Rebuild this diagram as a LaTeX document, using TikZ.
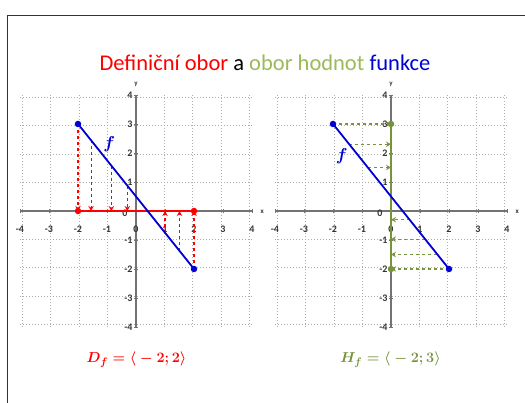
\documentclass[tikz,border=0pt]{standalone}
\usepackage{amsmath}
\usepackage{fontspec}
\setmainfont{Carlito}
\usetikzlibrary{arrows.meta}

\definecolor{cervena}{RGB}{255,0,0}
\definecolor{modra}{RGB}{0,0,210}
\definecolor{zelena}{RGB}{119,147,60}
\definecolor{zelenasv}{RGB}{155,187,89}

\tikzset{
  mrizka/.style={gray!65, dotted, line width=1pt},
  osa/.style={gray!90!black, line width=1.5pt},
  carka/.style={gray!90!black, line width=0.7pt},
  popisek/.style={font=\fontsize{10}{11}\selectfont\bfseries, text=black!80, inner sep=0.5pt},
  graf/.style={color=modra, line width=1.8pt},
  bod/.style={circle, fill, inner sep=0pt, minimum size=6.5pt},
  projD/.style={red, dashed, line width=1.1pt,
    -{Stealth[open, length=5pt, width=5.5pt]}},
  projH/.style={zelena, dashed, line width=1.1pt,
    -{Stealth[open, length=5pt, width=5.5pt]}},
}

% souradnicova soustava (mrizka, osy, popisky)
\newcommand{\soustava}[1]{%
  \draw[mrizka] (-4,-4) grid (4,4);
  \draw[osa] (-4,0) -- (4,0);
  \draw[osa] (0,-4) -- (0,4);
  \foreach \i in {-4,...,4}{
    \draw[carka] (\i,-0.08) -- (\i,0.08);
    \draw[carka] (-0.08,\i) -- (0.08,\i);
    \node[popisek] (#1x\i) at (\i,-0.62) {\i};
  }
  \foreach \i in {-4,...,-1,1,2,3,4}
    \node[popisek, anchor=east] (#1y\i) at (-0.1,\i) {\i};
  \node[popisek] (#1y0) at (-0.38,-0.07) {0};
  \node[popisek, font=\fontsize{7}{8}\selectfont\bfseries] (#1osax) at (4.35,-0.03) {x};
  \node[popisek, font=\fontsize{7}{8}\selectfont\bfseries] (#1osay) at (0,4.38) {y};
}

\begin{document}
\begin{tikzpicture}[x=1pt, y=1pt]
  \useasboundingbox (0,0) rectangle (525,403);

  % ramecek
  \draw[black!80, line width=0.9pt] (7.5,0) -- (7.5,388) -- (525,388);

  % nadpis
  \node[anchor=base, font=\fontsize{22.5}{26}\selectfont] (nadpis) at (265,332.5)
    {\textcolor{cervena}{Definiční obor} a \textcolor{zelenasv}{obor hodnot} \textcolor{modra}{funkce}};

  % levy graf: definicni obor
  \begin{scope}[shift={(136pt,192pt)}, x=29pt, y=29pt]
    \soustava{L}
    \coordinate (La) at (-2,3);
    \coordinate (Lb) at (2,-2);
    \foreach \xx [count=\n] in {-2,-1.55,-0.85,-0.3,1,1.5,2}{
      \coordinate (Lp\n) at (\xx,{0.5-1.25*\xx});
      \coordinate (Lo\n) at (\xx,0);
    }
    % svisle prumety na osu x
    \draw[projD] (Lp1) -- (Lo1);
    \draw[projD] (Lp2) -- (Lo2);
    \draw[projD] (Lp3) -- (Lo3);
    \draw[projD] (Lp4) -- (Lo4);
    \draw[projD] (Lp5) -- (Lo5);
    \draw[projD] (Lp6) -- (Lo6);
    \draw[projD] (Lp7) -- (Lo7);
    \draw[color=cervena, line width=2.4pt] (Lo1) -- (Lo7);
    \draw[graf] (La) -- (Lb);
    \node[bod, color=cervena] (LD1) at (Lo1) {};
    \node[bod, color=cervena] (LD2) at (Lo7) {};
    \node[bod, color=modra] (LA) at (La) {};
    \node[bod, color=modra] (LB) at (Lb) {};
    \node[color=modra, font=\fontsize{18}{20}\selectfont] (Lf) at (-0.92,2.3) {$\boldsymbol{f}$};
  \end{scope}

  % pravy graf: obor hodnot
  \begin{scope}[shift={(391pt,192pt)}, x=29pt, y=29pt]
    \soustava{R}
    \coordinate (Ra) at (-2,3);
    \coordinate (Rb) at (2,-2);
    \foreach \yy [count=\n] in {3,2.3,1.5,-0.3,-0.97,-1.5,-2}{
      \coordinate (Rp\n) at ({(0.5-\yy)/1.25},\yy);
      \coordinate (Ro\n) at (0,\yy);
    }
    % vodorovne prumety na osu y
    \draw[projH] (Rp1) -- (Ro1);
    \draw[projH] (Rp2) -- (Ro2);
    \draw[projH] (Rp3) -- (Ro3);
    \draw[projH] (Rp4) -- (Ro4);
    \draw[projH] (Rp5) -- (Ro5);
    \draw[projH] (Rp6) -- (Ro6);
    \draw[projH] (Rp7) -- (Ro7);
    \draw[color=zelena, line width=2.4pt] (Ro1) -- (Ro7);
    \draw[graf] (Ra) -- (Rb);
    \node[bod, color=zelena] (RH1) at (Ro1) {};
    \node[bod, color=zelena] (RH2) at (Ro7) {};
    \node[bod, color=modra] (RA) at (Ra) {};
    \node[bod, color=modra] (RB) at (Rb) {};
    \node[color=modra, font=\fontsize{18}{20}\selectfont] (Rf) at (-1.7,1.88) {$\boldsymbol{f}$};
  \end{scope}

  % vysledky
  \node[color=cervena, anchor=base, font=\fontsize{15}{18}\selectfont] (Df) at (136.5,40)
    {$\boldsymbol{D_f=\langle {}-2;2\rangle}$};
  \node[color=zelena, anchor=base, font=\fontsize{15}{18}\selectfont] (Hf) at (390.5,40)
    {$\boldsymbol{H_f=\langle {}-2;3\rangle}$};
\end{tikzpicture}
\end{document}
